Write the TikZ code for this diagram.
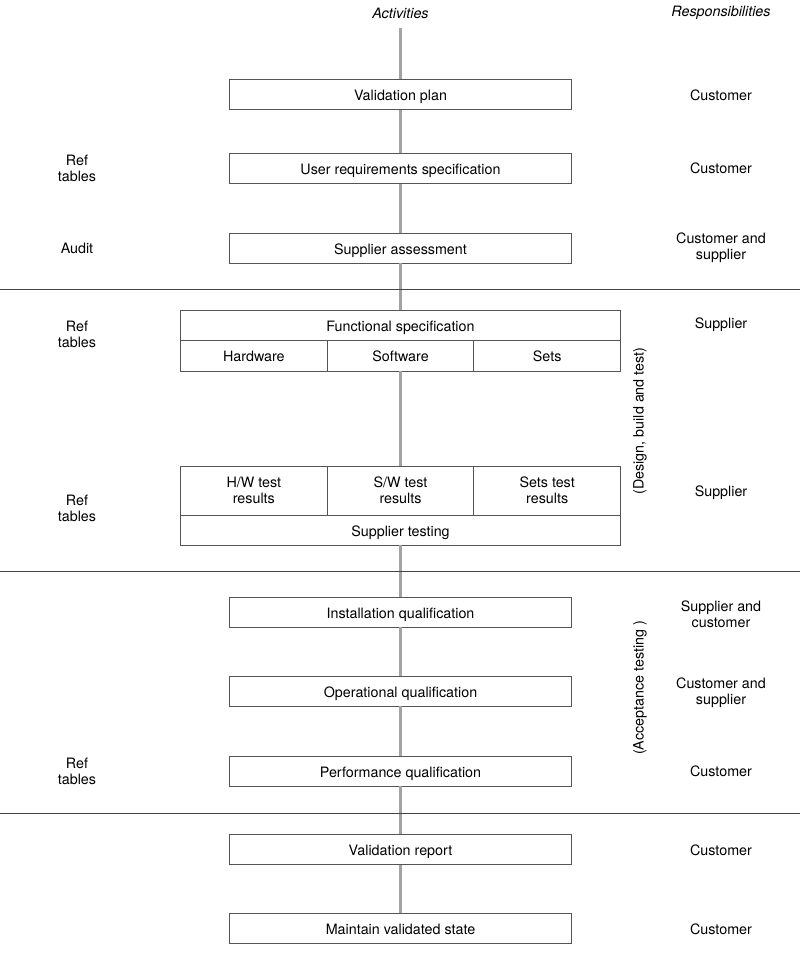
\documentclass[tikz,border=0pt]{standalone}
\usepackage{fontspec}
\setmainfont{TeX Gyre Heros}
\definecolor{boxline}{HTML}{555555}
\definecolor{spinegray}{HTML}{A3A3A3}
\definecolor{rulegray}{HTML}{444444}
\tikzset{
	actbox/.style={draw=boxline,line width=0.9pt,minimum width=342pt,minimum height=30pt,inner sep=0pt,text height=12pt,text depth=0pt},
	cellbox/.style={draw=boxline,line width=0.9pt,minimum width=146.67pt,inner sep=0pt,align=center},
	sidetext/.style={align=center,inner sep=0pt},
	spine/.style={draw=spinegray,line width=3pt},
	divider/.style={draw=rulegray,line width=1pt}
}
\begin{document}
\begin{tikzpicture}[x=1pt,y=-1pt,font=\fontsize{14.3}{16}\selectfont]
	\useasboundingbox (0,0) rectangle (800,956);
	% headings
	\node[sidetext,font=\fontsize{14.3}{16}\selectfont\itshape] (hact) at (400.5,13) {Activities};
	\node[sidetext,font=\fontsize{14.3}{16}\selectfont\itshape] (hresp) at (721,13) {Responsibilities};
	% activities
	\node[actbox] (vp) at (400.5,94.5) {Validation plan};
	\node[actbox] (urs) at (400.5,168.5) {User requirements specification};
	\node[actbox] (sa) at (400.5,248) {Supplier assessment};
	\node[actbox,minimum width=440pt] (fs) at (400.5,325) {Functional specification};
	\foreach \name/\txt/\dx in {hw/Hardware/-1,sw/Software/0,sets/Sets/1}
	\node[cellbox,minimum height=31pt,text height=12pt,text depth=0pt] (\name) at ({400.5+\dx*146.67},355.5) {\txt};
	\foreach \name/\txt/\dx in {hwt/{H/W test}/-1,swt/{S/W test}/0,setst/{Sets test}/1}
	\node[cellbox,minimum height=49pt] (\name) at ({400.5+\dx*146.67},490.5) {\txt\\results};
	\node[actbox,minimum width=440pt] (st) at (400.5,530) {Supplier testing};
	\node[actbox] (iq) at (400.5,612) {Installation qualification};
	\node[actbox] (oq) at (400.5,691) {Operational qualification};
	\node[actbox] (pq) at (400.5,771) {Performance qualification};
	\node[actbox] (vr) at (400.5,849.5) {Validation report};
	\node[actbox] (mvs) at (400.5,928.5) {Maintain validated state};
	% spine
	\coordinate (top) at (400.5,28);
	\foreach \a/\b in {top/vp,vp/urs,urs/sa,sa/fs,sw/swt,st/iq,iq/oq,oq/pq,pq/vr,vr/mvs}
	\draw[spine] (\a) -- (\b);
	% phase dividers
	\foreach \y in {289,571,813}
	\draw[divider] (0,\y) -- (800,\y);
	% left notes
	\node[sidetext] (ref1) at (77,168.5) {Ref\\tables};
	\node[sidetext] (audit) at (77,248) {Audit};
	\node[sidetext] (ref2) at (77,334) {Ref\\tables};
	\node[sidetext] (ref3) at (77,508) {Ref\\tables};
	\node[sidetext] (ref4) at (77,771) {Ref\\tables};
	% phases
	\node[sidetext,rotate=90] (dbt) at (640,421) {(Design, build and test)};
	\node[sidetext,rotate=90] (acc) at (640,688) {(Acceptance testing )};
	% responsibilities
	\node[sidetext] (r1) at (721,95) {Customer};
	\node[sidetext] (r2) at (721,168.5) {Customer};
	\node[sidetext] (r3) at (721,248) {Customer and\\supplier};
	\node[sidetext] (r4) at (721,325) {Supplier};
	\node[sidetext] (r5) at (721,493) {Supplier};
	\node[sidetext] (r6) at (721,614) {Supplier and\\customer};
	\node[sidetext] (r7) at (721,693) {Customer and\\supplier};
	\node[sidetext] (r8) at (721,771) {Customer};
	\node[sidetext] (r9) at (721,850) {Customer};
	\node[sidetext] (r10) at (721,929) {Customer};
\end{tikzpicture}
\end{document}
